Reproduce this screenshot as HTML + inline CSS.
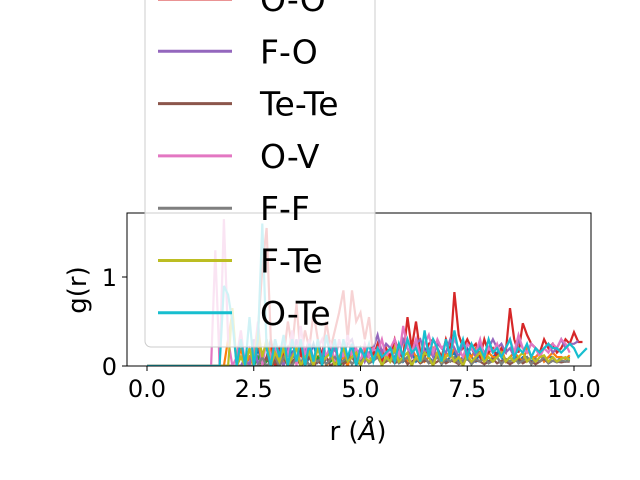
<!DOCTYPE html>
<html><head><meta charset="utf-8"><style>
html,body{margin:0;padding:0;background:#fff;}
svg{display:block;font-family:"DejaVu Sans","Liberation Sans",sans-serif;}
</style></head><body>
<svg id="c" width="640" height="480" viewBox="0 0 640 480">
<rect width="640" height="480" fill="#fff"/>
<g id="plot"></g>
<rect x="127" y="213" width="464" height="153" fill="none" stroke="#000" stroke-width="1"/>
<g id="ticks"></g>
<text x="358" y="440" font-size="26" text-anchor="middle">r (<tspan font-style="italic">Å</tspan>)</text>
<text transform="translate(86,290) rotate(-90)" font-size="26" text-anchor="middle">g(r)</text>
<g id="legend"></g>
</svg>
<script>
const labels=["F-V","Te-V","V-V","O-O","F-O","Te-Te","O-V","F-F","F-Te","O-Te"];
const colors=["#1f77b4","#ff7f0e","#2ca02c","#d62728","#9467bd","#8c564b","#e377c2","#7f7f7f","#bcbd22","#17becf"];
const z16=[0,0,0,0,0,0,0,0,0,0,0,0,0,0,0,0];
const sBlue=z16.concat([0,0,0,0,0,0,0,0,0.1,0,0.2,0,0.1,0.3,0,0.1,0.2,0,0.15,0.05,0.2,0,0.1,0.25,0.05,0.15,0.1,0.2,0,0.1,0.15,0.05,0.2,0.1,0,0.15,0.1,0.05,0.2,0.1,0.15,0.05,0.1,0.2,0.05,0.1,0.15,0.05,0.1,0.2,0.1,0.05,0.15,0.1,0.05,0.1,0.15,0.05,0.1,0.2,0.1,0.05,0.15,0.1,0.05,0.1,0.15,0.1,0.05,0.1,0.15,0.05,0.1,0.1,0.05,0.1,0.15,0.05,0.1,0.1,0.05,0.1,0.08,0.1]);
const sOrange=z16.concat([0,0,0,0.3,0.6,0,0.2,0,0.1,0,0.3,0,0.1,0.2,0,0.15,0.05,0.2,0,0.1,0.15,0,0.2,0.05,0.1,0.15,0,0.1,0.2,0.05,0.1,0,0.15,0.1,0.05,0.2,0.1,0.05,0.15,0.1,0.2,0.05,0.1,0.15,0.1,0.05,0.2,0.1,0.15,0.05,0.1,0.2,0.1,0.05,0.15,0.1,0.2,0.1,0.05,0.15,0.1,0.2,0.1,0.05,0.15,0.1,0.1,0.2,0.05,0.1,0.15,0.1,0.05,0.2,0.1,0.1,0.15,0.05,0.1,0.15,0.1,0.1,0.08,0.12]);
const sGreen=z16.concat([0,0,0,0,0,0,0,0,0,0,0.1,0,0.05,0.1,0,0.05,0.1,0,0.05,0.1,0.02,0.1,0,0.05,0.1,0.02,0.08,0.05,0.1,0,0.05,0.1,0.02,0.08,0.05,0.1,0.03,0.06,0.1,0.02,0.08,0.05,0.1,0.03,0.06,0.1,0.02,0.08,0.05,0.1,0.03,0.06,0.1,0.02,0.08,0.05,0.1,0.03,0.06,0.1,0.02,0.08,0.05,0.1,0.03,0.06,0.1,0.02,0.08,0.05,0.1,0.03,0.06,0.1,0.02,0.08,0.05,0.1,0.03,0.06,0.05,0.06,0.05,0.07]);
const sOO=z16.concat([0,0,0,0,0,0,0,0,0,0,0.4,1.1,1.55,0.3,0,0.2,0.1,0.5,0.2,0.7,0.1,0.4,0.2,0.6,0.3,0.1,0.5,0.2,0.4,0.6,0.85,0.3,0.85,0.5,0.6,0.3,0.55,0.1,0.25,0.05,0.2,0.1,0.3,0.15,0.1,0.55,0.2,0.5,0.15,0.1,0.25,0.3,0.2,0.1,0.3,0.15,0.83,0.35,0.2,0.3,0.2,0.25,0.1,0.3,0.15,0.2,0.1,0.2,0.15,0.65,0.3,0.15,0.48,0.35,0.25,0.2,0.15,0.3,0.2,0.25,0.15,0.2,0.3,0.25,0.38,0.27,0.27]);
const sFO=z16.concat([0,0,0,0,0,0,0,0.1,0,0.3,0,0.15,0.2,0.05,0.3,0.1,0,0.2,0.1,0.3,0,0.15,0.3,0.05,0.2,0.1,0.35,0.1,0.2,0.05,0.15,0.25,0.3,0.1,0.2,0.05,0.15,0.2,0.35,0.15,0.25,0.2,0.15,0.1,0.3,0.2,0.1,0.25,0.3,0.15,0.2,0.1,0.25,0.2,0.15,0.3,0.2,0.1,0.25,0.15,0.2,0.1,0.25,0.15,0.2,0.3,0.2,0.25,0.15,0.2,0.1,0.3,0.2,0.15,0.25,0.2,0.15,0.2,0.25,0.15,0.2,0.3,0.2,0.25,0.25,0.28]);
const sTeTe=z16.concat([0,0,0,0,0,0,0,0,0,0,0,0,0.1,0,0.05,0,0.1,0,0.05,0.1,0,0.05,0.1,0,0.05,0.02,0.1,0,0.05,0.1,0.02,0.06,0.1,0.02,0.05,0.1,0.03,0.06,0.1,0.02,0.05,0.08,0.03,0.06,0.1,0.02,0.05,0.08,0.03,0.06,0.05,0.02,0.05,0.08,0.03,0.06,0.05,0.02,0.05,0.08,0.03,0.06,0.05,0.02,0.05,0.08,0.03,0.06,0.05,0.02,0.05,0.08,0.03,0.06,0.05,0.02,0.05,0.08,0.03,0.06,0.05,0.04,0.05,0.05]);
const sOV=z16.concat([1.3,0,1.65,0.3,0,0.1,0.4,0,0.2,0.1,0.5,0,0.3,0.1,0.2,0,0.3,0.1,0.4,0,0.45,0.1,0.3,0,0.2,0.3,0.1,0.25,0.05,0.3,0.1,0.35,0.1,0.2,0.05,0.25,0.1,0.2,0.15,0.3,0.1,0.2,0.3,0.1,0.45,0.2,0.15,0.3,0.1,0.25,0.35,0.15,0.3,0.2,0.25,0.15,0.3,0.2,0.1,0.25,0.2,0.15,0.3,0.1,0.2,0.15,0.25,0.1,0.2,0.3,0.15,0.35,0.2,0.15,0.25,0.2,0.1,0.2,0.15,0.25,0.2,0.3,0.25,0.15]);
const sFF=z16.concat([0,0,0,0,0,0,0,0,0,0,0,0.1,0,0.05,0.1,0,0.1,0.05,0,0.1,0.05,0.1,0,0.08,0.05,0.1,0.02,0.08,0.1,0.03,0.06,0.1,0.02,0.08,0.05,0.1,0.03,0.06,0.1,0.02,0.08,0.05,0.1,0.03,0.06,0.1,0.02,0.08,0.05,0.1,0.03,0.06,0.1,0.02,0.08,0.05,0.1,0.03,0.06,0.1,0.02,0.08,0.05,0.1,0.03,0.06,0.1,0.02,0.08,0.05,0.1,0.03,0.06,0.1,0.02,0.08,0.05,0.1,0.03,0.06,0.04,0.06,0.05,0.06]);
const sFTe=z16.concat([0,0,0,0,0.65,0,0.1,0,0.2,0,0.4,0.1,0.3,0,0.15,0.05,0.2,0,0.1,0.2,0,0.1,0.15,0,0.2,0.05,0.1,0.15,0,0.1,0.2,0.05,0.1,0.15,0,0.1,0.05,0.1,0.15,0,0.1,0.05,0.2,0.05,0.1,0.15,0,0.1,0.05,0.15,0.1,0,0.15,0.05,0.1,0.15,0.05,0.1,0,0.12,0.05,0.1,0.15,0.05,0.1,0.05,0.1,0.15,0.05,0.1,0.05,0.1,0.15,0.05,0.1,0.05,0.1,0.12,0.05,0.1,0.05,0.08,0.1,0.07]);
const sOTe=z16.concat([0,0,0.9,0.8,0.5,0,0.3,0,0.55,0,0.3,1.6,0.2,0,0.3,0.1,0.35,0,0.3,0.05,0.3,0,0.25,0.05,0.3,0,0.35,0.1,0.3,0,0.3,0.1,0.25,0,0.2,0.1,0.25,0.05,0.2,0.1,0.15,0.2,0.05,0.25,0.1,0.3,0.15,0.2,0.05,0.4,0.1,0.3,0.2,0.05,0.3,0.1,0.4,0.15,0.3,0.1,0.25,0.15,0.2,0.1,0.3,0.15,0.2,0.1,0.2,0.3,0.1,0.2,0.15,0.25,0.1,0.2,0.15,0.2,0.25,0.2,0.2,0.15,0.2,0.25,0.2,0.1,0.15,0.2]);
const series=[sBlue,sOrange,sGreen,sOO,sFO,sTeTe,sOV,sFF,sFTe,sOTe];
const xTicks=[0,2.5,5,7.5,10];
const xTickLabels=["0.0","2.5","5.0","7.5","10.0"];
const yTicks=[0,1];
const yTickLabels=["0","1"];
const NS="http://www.w3.org/2000/svg";
const X0=147,XU=42.7,Y0=366,YU=89;
const sx=v=>X0+v*XU, sy=v=>Y0-v*YU;
const svg=document.getElementById('c');
const clip=document.createElementNS(NS,'clipPath');clip.setAttribute('id','cl');
const cr=document.createElementNS(NS,'rect');cr.setAttribute('x',127);cr.setAttribute('y',213);cr.setAttribute('width',464);cr.setAttribute('height',153);
clip.appendChild(cr);svg.insertBefore(clip,svg.firstChild);
const plot=document.getElementById('plot');plot.setAttribute('clip-path','url(#cl)');
series.forEach((s,k)=>{
  const p=document.createElementNS(NS,'polyline');
  
  
  p.setAttribute('points',s.map((v,i)=>sx(i*0.1).toFixed(1)+','+sy(v).toFixed(1)).join(' '));
  p.setAttribute('fill','none');p.setAttribute('stroke',colors[k]);p.setAttribute('stroke-width','2.2');
  plot.appendChild(p);
});
const tg=document.getElementById('ticks');
xTicks.forEach((t,i)=>{
  const l=document.createElementNS(NS,'line');
  
  
  l.setAttribute('x1',sx(t));l.setAttribute('x2',sx(t));l.setAttribute('y1',366);l.setAttribute('y2',371);l.setAttribute('stroke','#000');
  tg.appendChild(l);
  const tx=document.createElementNS(NS,'text');
  
  
  tx.setAttribute('x',sx(t));tx.setAttribute('y',397);tx.setAttribute('font-size','24');tx.setAttribute('text-anchor','middle');
  tx.textContent=xTickLabels[i];tg.appendChild(tx);
});
yTicks.forEach((t,i)=>{
  const l=document.createElementNS(NS,'line');
  
  
  l.setAttribute('x1',122);l.setAttribute('x2',127);l.setAttribute('y1',sy(t));l.setAttribute('y2',sy(t));l.setAttribute('stroke','#000');
  tg.appendChild(l);
  const tx=document.createElementNS(NS,'text');
  
  
  tx.setAttribute('x',117);tx.setAttribute('y',sy(t)+9);tx.setAttribute('font-size','24');tx.setAttribute('text-anchor','end');
  tx.textContent=yTickLabels[i];tg.appendChild(tx);
});
const lg=document.getElementById('legend');
const box=document.createElementNS(NS,'rect');


box.setAttribute('x',145);box.setAttribute('y',-200);box.setAttribute('width',230);box.setAttribute('height',547);box.setAttribute('rx',6);
box.setAttribute('fill','#fff');box.setAttribute('fill-opacity','0.8');box.setAttribute('stroke','#ccc');
lg.appendChild(box);
labels.forEach((lab,k)=>{
  const y=-1-(3-k)*52.3;
  const g=document.createElementNS(NS,'g');
  
  
  const l=document.createElementNS(NS,'line');
  l.setAttribute('x1',158);l.setAttribute('x2',232);l.setAttribute('y1',y);l.setAttribute('y2',y);l.setAttribute('stroke',colors[k]);l.setAttribute('stroke-width','3');
  g.appendChild(l);
  const t=document.createElementNS(NS,'text');
  t.setAttribute('x',260);t.setAttribute('y',y+12);t.setAttribute('font-size','33');t.textContent=lab;
  g.appendChild(t);lg.appendChild(g);
});
</script>
</body></html>
